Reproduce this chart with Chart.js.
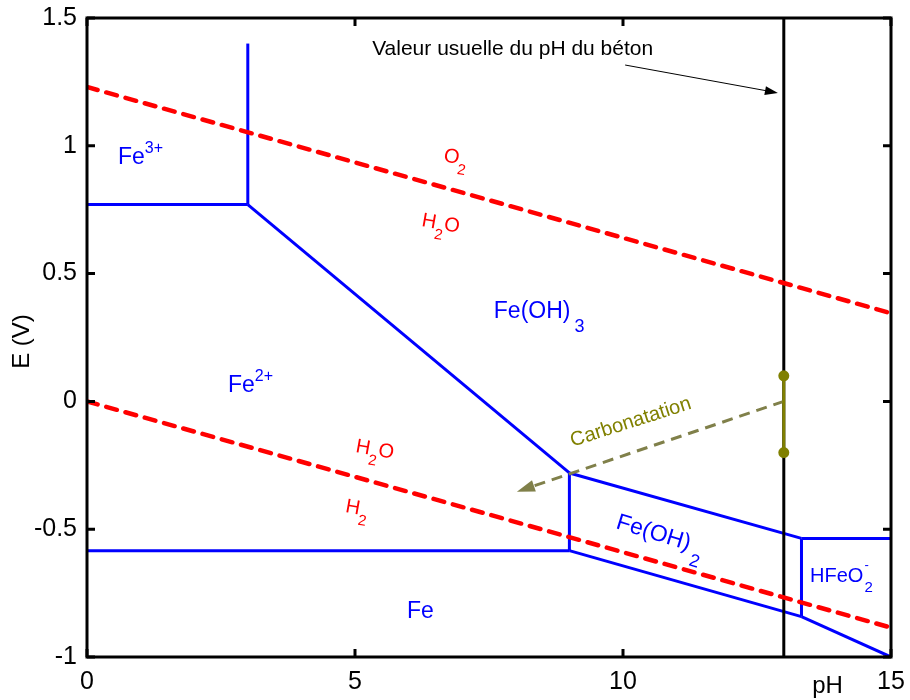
<!DOCTYPE html>
<html>
<head>
<meta charset="utf-8">
<script src="https://cdn.jsdelivr.net/npm/chart.js@4"></script>
<style>
  html, body { margin: 0; padding: 0; background: #fff; }
</style>
</head>
<body>
<canvas id="pourbaix" width="910" height="700"></canvas>
<script>
// Pourbaix diagram of iron (E in V vs pH), with the usual pH of concrete

// Axis ticks
const pHTicks = [0, 5, 10, 15];
const eTicks = [-1, -0.5, 0, 0.5, 1, 1.5];

// Water stability lines
const o2LinePH = [0, 15];
const o2LineE = [1.23, 0.345];
const h2LinePH = [0, 15];
const h2LineE = [0, -0.885];

// Iron domain boundaries
const fe3Fe2PH = [0, 3];
const fe3Fe2E = [0.77, 0.77];
const fe3FeOH3PH = [3, 3];
const fe3FeOH3E = [0.77, 1.4];
const fe2FeOH3PH = [3, 9];
const fe2FeOH3E = [0.77, -0.28];
const fe2FeOH2PH = [9, 9];
const fe2FeOH2E = [-0.28, -0.584];
const feFe2PH = [0, 9];
const feFe2E = [-0.584, -0.584];
const feOH3FeOH2PH = [9, 13.33];
const feOH3FeOH2E = [-0.28, -0.536];
const feOH3HFeO2PH = [13.33, 15];
const feOH3HFeO2E = [-0.536, -0.536];
const feOH2HFeO2PH = [13.33, 13.33];
const feOH2HFeO2E = [-0.536, -0.842];
const feFeOH2PH = [9, 13.33];
const feFeOH2E = [-0.584, -0.842];
const feHFeO2PH = [13.33, 15];
const feHFeO2E = [-0.842, -1.0];

// Concrete pH, its potential range, and the carbonation path
const concretePH = [13, 13];
const concreteE = [1.5, -1];
const rangePH = [13, 13];
const rangeE = [0.1, -0.2];
const carbonationPH = [13, 8.02];
const carbonationE = [0, -0.353];

// Annotation arrow for the concrete line
const notePH = [10.04, 12.89];
const noteE = [1.316, 1.207];

const BLUE = '#0000ff';
const RED = '#ff0000';
const OLIVE = '#808000';
const OLIVE_DASH = '#80804a';
const FONT = '"Liberation Sans", Arial, sans-serif';

function pts(xs, ys) {
    return xs.map((x, i) => ({ x: x, y: ys[i] }));
}

function boundary(xs, ys) {
    return { data: pts(xs, ys), borderColor: BLUE, borderWidth: 3, pointRadius: 0, order: 4 };
}

function waterLine(xs, ys) {
    return {
        data: pts(xs, ys), borderColor: RED, borderWidth: 4.5, pointRadius: 0,
        borderDash: [11, 9], borderCapStyle: 'round', order: 2
    };
}

// Text labels, anchored at data coordinates (left baseline)
const labels = [
    { x: 0.578, y: 0.929, color: BLUE, size: 23, parts: [{ t: 'Fe' }, { t: '3+', size: 16, dy: -11 }] },
    { x: 2.63, y: 0.037, color: BLUE, size: 23, parts: [{ t: 'Fe' }, { t: '2+', size: 16, dy: -11 }] },
    { x: 7.59, y: 0.326, color: BLUE, size: 23, parts: [{ t: 'Fe(OH)', gap: 4 }, { t: '3', size: 18, dy: 14 }] },
    { x: 9.85, y: -0.495, color: BLUE, size: 23, angle: 17, parts: [{ t: 'Fe(OH)', gap: 4 }, { t: '2', size: 18, dy: 14 }] },
    { x: 5.97, y: -0.847, color: BLUE, size: 23, parts: [{ t: 'Fe' }] },
    { x: 13.49, y: -0.707, color: BLUE, size: 20, parts: [{ t: 'HFeO', gap: 1 }, { t: '-', size: 13, dy: -13, stack: true }, { t: '2', size: 15, dy: 10 }] },
    { x: 6.64, y: 0.94, color: RED, size: 20, angle: 10, parts: [{ t: 'O' }, { t: '2', size: 15, dy: 10 }] },
    { x: 6.23, y: 0.686, color: RED, size: 20, angle: 10, parts: [{ t: 'H' }, { t: '2', size: 15, dy: 10 }, { t: 'O' }] },
    { x: 5.0, y: -0.198, color: RED, size: 20, angle: 10, parts: [{ t: 'H' }, { t: '2', size: 15, dy: 10 }, { t: 'O' }] },
    { x: 4.81, y: -0.433, color: RED, size: 20, angle: 10, parts: [{ t: 'H' }, { t: '2', size: 15, dy: 10 }] },
    { x: 9.06, y: -0.177, color: OLIVE, size: 20, angle: -17.7, parts: [{ t: 'Carbonatation' }] },
    { x: 5.32, y: 1.355, color: '#000', size: 21, parts: [{ t: 'Valeur usuelle du pH du béton' }] },
    { x: 13.53, y: -1.141, color: '#000', size: 24, parts: [{ t: 'pH' }] }
];

function drawRich(ctx, px, py, lab) {
    ctx.save();
    ctx.translate(px, py);
    ctx.rotate((lab.angle || 0) * Math.PI / 180);
    ctx.fillStyle = lab.color;
    ctx.textBaseline = 'alphabetic';
    ctx.textAlign = 'left';
    let cx = 0;
    lab.parts.forEach(p => {
        ctx.font = (p.size || lab.size) + 'px ' + FONT;
        ctx.fillText(p.t, cx, p.dy || 0);
        if (!p.stack) {
            cx += ctx.measureText(p.t).width + (p.gap || 0);
        }
    });
    ctx.restore();
}

function arrowHead(ctx, x0, y0, x1, y1, len, half, color) {
    const a = Math.atan2(y1 - y0, x1 - x0);
    ctx.save();
    ctx.translate(x1, y1);
    ctx.rotate(a);
    ctx.fillStyle = color;
    ctx.beginPath();
    ctx.moveTo(0, 0);
    ctx.lineTo(-len, -half);
    ctx.lineTo(-len, half);
    ctx.closePath();
    ctx.fill();
    ctx.restore();
}

const decorPlugin = {
    id: 'decor',
    afterDatasetsDraw(chart) {
        const ctx = chart.ctx;
        const xs = chart.scales.x;
        const ys = chart.scales.y;
        const area = chart.chartArea;

        // frame
        ctx.save();
        ctx.strokeStyle = '#000';
        ctx.lineWidth = 3;
        ctx.strokeRect(area.left, area.top, area.right - area.left, area.bottom - area.top);

        // inward tick marks on all four sides
        const tl = 8;
        ctx.beginPath();
        pHTicks.forEach(v => {
            const p = xs.getPixelForValue(v);
            ctx.moveTo(p, area.bottom); ctx.lineTo(p, area.bottom - tl);
            ctx.moveTo(p, area.top); ctx.lineTo(p, area.top + tl);
        });
        eTicks.forEach(v => {
            const p = ys.getPixelForValue(v);
            ctx.moveTo(area.left, p); ctx.lineTo(area.left + tl, p);
            ctx.moveTo(area.right, p); ctx.lineTo(area.right - tl, p);
        });
        ctx.stroke();

        // annotation arrow towards the concrete pH line
        const n0x = xs.getPixelForValue(notePH[0]), n0y = ys.getPixelForValue(noteE[0]);
        const n1x = xs.getPixelForValue(notePH[1]), n1y = ys.getPixelForValue(noteE[1]);
        ctx.lineWidth = 1;
        ctx.beginPath();
        ctx.moveTo(n0x, n0y);
        ctx.lineTo(n1x - 8, n1y - 1.5);
        ctx.stroke();
        arrowHead(ctx, n0x, n0y, n1x, n1y, 13, 4.5, '#000');

        // carbonation arrow head
        const c0x = xs.getPixelForValue(carbonationPH[0]), c0y = ys.getPixelForValue(carbonationE[0]);
        const c1x = xs.getPixelForValue(carbonationPH[1]), c1y = ys.getPixelForValue(carbonationE[1]);
        arrowHead(ctx, c0x, c0y, c1x, c1y, 18, 6, OLIVE_DASH);
        ctx.restore();

        // texts
        labels.forEach(lab => {
            drawRich(ctx, xs.getPixelForValue(lab.x), ys.getPixelForValue(lab.y), lab);
        });

        // y axis title
        ctx.save();
        ctx.translate(22, (area.top + area.bottom) / 2 + 4);
        ctx.rotate(-Math.PI / 2);
        ctx.font = '24px ' + FONT;
        ctx.fillStyle = '#000';
        ctx.textAlign = 'center';
        ctx.textBaseline = 'middle';
        ctx.fillText('E (V)', 0, 0);
        ctx.restore();
    }
};

const carbonationSet = {
    data: pts(carbonationPH, carbonationE), borderColor: OLIVE_DASH, borderWidth: 3,
    pointRadius: 0, borderDash: [11, 7], order: 1
};
// stop the dashed shaft at the base of the arrow head
carbonationSet.data[1] = {
    x: carbonationPH[1] + (carbonationPH[0] - carbonationPH[1]) * 0.05,
    y: carbonationE[1] + (carbonationE[0] - carbonationE[1]) * 0.05
};

const tickFont = { size: 25, family: FONT };

// keep the plot box where the layout padding puts it
function fixPadding(s) {
    s.paddingTop = 0;
    s.paddingBottom = 0;
    s.paddingLeft = 0;
    s.paddingRight = 0;
}

new Chart(document.getElementById('pourbaix'), {
    type: 'line',
    data: {
        datasets: [
            waterLine(o2LinePH, o2LineE),
            waterLine(h2LinePH, h2LineE),
            boundary(fe3Fe2PH, fe3Fe2E),
            boundary(fe3FeOH3PH, fe3FeOH3E),
            boundary(fe2FeOH3PH, fe2FeOH3E),
            boundary(fe2FeOH2PH, fe2FeOH2E),
            boundary(feFe2PH, feFe2E),
            boundary(feOH3FeOH2PH, feOH3FeOH2E),
            boundary(feOH3HFeO2PH, feOH3HFeO2E),
            boundary(feOH2HFeO2PH, feOH2HFeO2E),
            boundary(feFeOH2PH, feFeOH2E),
            boundary(feHFeO2PH, feHFeO2E),
            { data: pts(concretePH, concreteE), borderColor: '#000', borderWidth: 3, pointRadius: 0, order: 3 },
            carbonationSet,
            {
                data: pts(rangePH, rangeE), borderColor: OLIVE, borderWidth: 3, order: 0,
                pointRadius: 4, pointBackgroundColor: OLIVE, pointBorderColor: OLIVE
            }
        ]
    },
    options: {
        responsive: false,
        animation: false,
        devicePixelRatio: 1,
        layout: { padding: { top: 18, right: 19, left: 0, bottom: 0 } },
        plugins: {
            legend: { display: false },
            tooltip: { enabled: false }
        },
        scales: {
            x: {
                type: 'linear',
                min: 0,
                max: 15,
                afterBuildTicks: s => { s.ticks = pHTicks.map(v => ({ value: v })); },
                afterFit: s => { s.height = 43; fixPadding(s); },
                ticks: { font: tickFont, color: '#000', padding: 10, maxRotation: 0, callback: v => String(v) },
                grid: { display: false, drawTicks: false },
                border: { display: false }
            },
            y: {
                type: 'linear',
                min: -1,
                max: 1.5,
                afterBuildTicks: s => { s.ticks = eTicks.map(v => ({ value: v })); },
                afterFit: s => { s.width = 87; fixPadding(s); },
                ticks: { font: tickFont, color: '#000', padding: 10, callback: v => String(v) },
                grid: { display: false, drawTicks: false },
                border: { display: false }
            }
        }
    },
    plugins: [decorPlugin]
});
</script>
</body>
</html>
